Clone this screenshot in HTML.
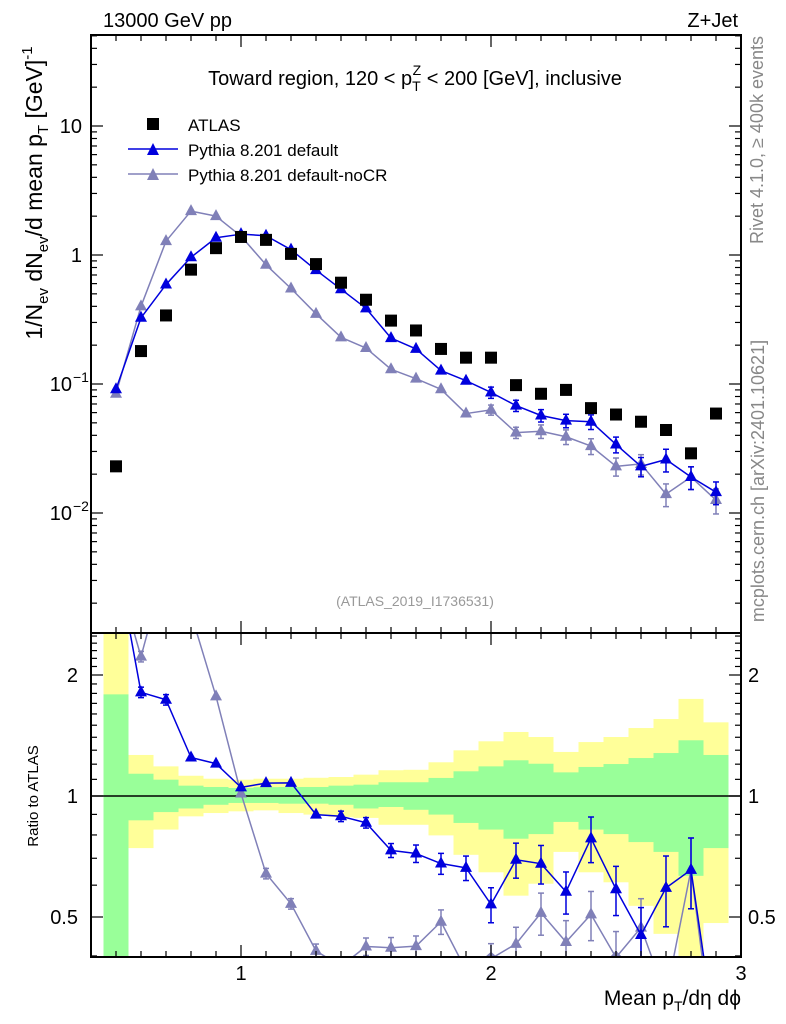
<!DOCTYPE html>
<html><head><meta charset="utf-8"><style>
html,body{margin:0;padding:0;background:#fff;width:786px;height:1024px;overflow:hidden;}
svg{display:block;font-family:"Liberation Sans",sans-serif;}
</style></head><body>
<svg id="c" width="786" height="1024" viewBox="0 0 786 1024" xmlns="http://www.w3.org/2000/svg">
<g id="bands"></g>
<g id="marks"></g>
<g id="axes"></g>
<text x="103" y="27" font-size="20">13000 GeV pp</text>
<text x="738" y="27" font-size="20" text-anchor="end">Z+Jet</text>
<text x="415" y="85" font-size="20" text-anchor="middle">Toward region, 120 &lt; p<tspan font-size="14" dy="6">T</tspan><tspan font-size="14" dx="-8" dy="-16">Z</tspan><tspan dy="10"> &lt; 200 [GeV], inclusive</tspan></text>
<text x="415" y="606" font-size="14" fill="#999" text-anchor="middle">(ATLAS_2019_I1736531)</text>
<text transform="translate(763,140) rotate(-90)" font-size="18" fill="#888" text-anchor="middle">Rivet 4.1.0, ≥ 400k events</text>
<text transform="translate(764,481) rotate(-90)" font-size="18" fill="#888" text-anchor="middle">mcplots.cern.ch [arXiv:2401.10621]</text>
<text transform="translate(42,193) rotate(-90)" font-size="23" text-anchor="middle">1/N<tspan font-size="15" dy="6">ev</tspan><tspan dy="-6"> dN</tspan><tspan font-size="15" dy="6">ev</tspan><tspan dy="-6">/d mean p</tspan><tspan font-size="15" dy="6">T</tspan><tspan dy="-6"> [GeV]</tspan><tspan font-size="15" dy="-10">-1</tspan></text>
<text transform="translate(38,796) rotate(-90)" font-size="15" text-anchor="middle">Ratio to ATLAS</text>
<text x="741" y="1005" font-size="21" text-anchor="end">Mean p<tspan font-size="14" dy="6">T</tspan><tspan dy="-6">/dη dϕ</tspan></text>
<g>
<rect x="147" y="118" width="12" height="12" fill="#000"/>
<text x="188" y="131" font-size="17">ATLAS</text>
<line x1="128" y1="149" x2="178" y2="149" stroke="#0000dd" stroke-width="1.5"/>
<path d="M147,155 L159,155 L153,143 Z" fill="#0000dd"/>
<text x="188" y="156" font-size="17">Pythia 8.201 default</text>
<line x1="128" y1="174" x2="178" y2="174" stroke="#8080b8" stroke-width="1.5"/>
<path d="M147,180 L159,180 L153,168 Z" fill="#8080b8"/>
<text x="188" y="181" font-size="17">Pythia 8.201 default-noCR</text>
</g>
</svg>
<script>
const xCenters=[0.5,0.6,0.7,0.8,0.9,1.0,1.1,1.2,1.3,1.4,1.5,1.6,1.7,1.8,1.9,2.0,2.1,2.2,2.3,2.4,2.5,2.6,2.7,2.8,2.9];
const atlasVals=[0.023,0.18,0.34,0.77,1.13,1.38,1.31,1.02,0.85,0.61,0.45,0.31,0.26,0.187,0.16,0.16,0.098,0.084,0.09,0.065,0.058,0.051,0.044,0.029,0.059];
const defaultVals=[0.091,0.326,0.59,0.96,1.36,1.45,1.41,1.10,0.764,0.543,0.386,0.227,0.187,0.127,0.106,0.086,0.068,0.057,0.052,0.051,0.034,0.023,0.026,0.019,0.0145];
const nocrVals=[0.084,0.40,1.28,2.19,2.0,1.40,0.84,0.55,0.35,0.23,0.19,0.13,0.11,0.091,0.059,0.063,0.042,0.043,0.039,0.033,0.023,0.024,0.014,0.019,0.0126];
const defaultRelErr=[0.04,0.03,0.03,0.025,0.02,0.02,0.02,0.02,0.025,0.03,0.03,0.04,0.05,0.06,0.07,0.1,0.1,0.11,0.12,0.13,0.14,0.17,0.2,0.2,0.2];
const nocrRelErr=[0.04,0.03,0.02,0.02,0.02,0.02,0.03,0.03,0.04,0.04,0.05,0.06,0.06,0.07,0.08,0.09,0.1,0.12,0.13,0.14,0.16,0.18,0.2,0.2,0.22];
const greenUp=[1.79,1.136,1.098,1.061,1.053,1.047,1.052,1.053,1.053,1.061,1.067,1.082,1.082,1.109,1.152,1.185,1.227,1.203,1.145,1.181,1.201,1.243,1.279,1.376,1.265];
const greenLo=[0.3,0.870,0.912,0.931,0.951,0.961,0.961,0.957,0.957,0.951,0.931,0.939,0.924,0.899,0.857,0.825,0.783,0.804,0.862,0.825,0.804,0.768,0.726,0.633,0.742];
const yellowUp=[3,1.265,1.185,1.123,1.104,1.098,1.104,1.104,1.110,1.115,1.130,1.159,1.162,1.213,1.299,1.368,1.443,1.402,1.287,1.362,1.402,1.476,1.554,1.744,1.525];
const yellowLo=[0.3,0.742,0.825,0.890,0.907,0.916,0.921,0.907,0.899,0.887,0.882,0.848,0.848,0.798,0.714,0.646,0.565,0.605,0.726,0.646,0.610,0.533,0.454,0.3,0.483];
const xTickLabels=["1","2","3"];
const yTickLabels=["10","1","10","10"];
const rTickLabels=["2","1","0.5"];

const NS="http://www.w3.org/2000/svg";
const L=91,R=741,T=35,B=633,RT=633,RB=957;
const X=v=>L+(v-0.4)*250;
const Y=v=>255-129*Math.log10(v);
const RY=v=>796-121*Math.log2(v);
const clampR=y=>Math.max(RT,Math.min(RB,y));
function mk(tag,attrs,parent){const e=document.createElementNS(NS,tag);for(const k in attrs)e.setAttribute(k,attrs[k]);parent.appendChild(e);return e;}
const bands=document.getElementById('bands'),marks=document.getElementById('marks'),axes=document.getElementById('axes');

xCenters.forEach((c,i)=>{
  const x0=X(c-0.05),w=25;
  let y1=clampR(RY(yellowUp[i])),y2=clampR(RY(yellowLo[i]));
  let r=mk('rect',{x:x0,y:y1,width:w,height:y2-y1,fill:'#ffff99'},bands);
  
  
  y1=clampR(RY(greenUp[i]));y2=clampR(RY(greenLo[i]));
  r=mk('rect',{x:x0,y:y1,width:w,height:y2-y1,fill:'#99ff99'},bands);
  
  
});
let ln=mk('line',{x1:L,y1:796,x2:R,y2:796,stroke:'#000','stroke-width':1.5},bands);



const gTop=mk('g',{},marks);
const gBot=mk('g',{},marks);

// clip polyline segments to vertical range [y0,y1]
function clippedPath(pts,y0,y1){
  let d='';
  for(let i=0;i<pts.length-1;i++){
    let [ax,ay]=pts[i],[bx,by]=pts[i+1];
    let t0=0,t1=1;const dy=by-ay;
    if(dy===0){if(ay<y0||ay>y1)continue;}
    else{
      let ta=(y0-ay)/dy,tb=(y1-ay)/dy;
      let lo=Math.min(ta,tb),hi=Math.max(ta,tb);
      t0=Math.max(0,lo);t1=Math.min(1,hi);
      if(t0>=t1)continue;
    }
    const px=ax+(bx-ax)*t0,py=ay+dy*t0,qx=ax+(bx-ax)*t1,qy=ay+dy*t1;
    d+=`M${px.toFixed(2)},${py.toFixed(2)}L${qx.toFixed(2)},${qy.toFixed(2)}`;
  }
  return d;
}

function series(vals,errs,color,name){
  const mainPts=xCenters.map((c,i)=>[X(c),Y(vals[i])]);
  let pl=mk('path',{d:clippedPath(mainPts,T,B),fill:'none',stroke:color,'stroke-width':1.5,'stroke-linejoin':'round'},gTop);
  
  
  const ratioPts=xCenters.map((c,i)=>[X(c),RY(vals[i]/atlasVals[i])]);
  pl=mk('path',{d:clippedPath(ratioPts,RT,RB),fill:'none',stroke:color,'stroke-width':1.5},gBot);
  
  
  xCenters.forEach((c,i)=>{
    const x=X(c);
    [[gTop,Y,vals[i],T,B],[gBot,RY,vals[i]/atlasVals[i],RT,RB]].forEach(([g,f,v,lo,hi],k)=>{
      const y=f(v);
      let ya=f(v*(1+errs[i])),yb=f(v*(1-errs[i]));
      if(yb<lo||ya>hi)return;
      if(ya<y-5||yb>y+5){
        const a=Math.max(lo,ya),b=Math.min(hi,yb);
        mk('line',{x1:x,y1:a,x2:x,y2:b,stroke:color,'stroke-width':1.5},g);
        if(ya>=lo)mk('line',{x1:x-3,y1:ya,x2:x+3,y2:ya,stroke:color,'stroke-width':1.5},g);
        if(yb<=hi)mk('line',{x1:x-3,y1:yb,x2:x+3,y2:yb,stroke:color,'stroke-width':1.5},g);
      }
      if(y<lo-2||y>hi+2)return;
      const p=mk('path',{d:`M${x-6},${Math.min(y+4,hi)} L${x+6},${Math.min(y+4,hi)} L${x},${Math.max(y-7,lo)} Z`,fill:color},g);
      
      
    });
  });
}
series(nocrVals,nocrRelErr,'#8080b8','pythia-nocr');
series(defaultVals,defaultRelErr,'#0000dd','pythia-default');
xCenters.forEach((c,i)=>{
  const s=mk('rect',{x:X(c)-6,y:Y(atlasVals[i])-6,width:12,height:12,fill:'#000'},gTop);
  
  
});

[[T,B],[RT,RB]].forEach(([a,b])=>mk('rect',{x:L,y:a,width:R-L,height:b-a,fill:'none',stroke:'#000','stroke-width':2},axes));
for(let k=0;k<=26;k++){
  const v=0.4+k*0.1,x=X(v),maj=Math.abs(v-Math.round(v))<1e-6;
  const len=maj?12:6;
  [[T,1],[B,-1],[RT,1],[RB,-1]].forEach(([y,d])=>mk('line',{x1:x,y1:y,x2:x,y2:y+d*len,stroke:'#000','stroke-width':1.2},axes));
}
xTickLabels.forEach((t,i)=>{
  const e=mk('text',{x:X(i+1),y:980,'font-size':20,'text-anchor':'middle'},axes);e.textContent=t;
  
  
});
for(let d=-3;d<=1;d++){for(let m=1;m<=9;m++){
  const v=m*Math.pow(10,d),y=Y(v);if(y<T||y>B)continue;
  const len=m==1?12:6;
  mk('line',{x1:L,y1:y,x2:L+len,y2:y,stroke:'#000','stroke-width':1.2},axes);
  mk('line',{x1:R,y1:y,x2:R-len,y2:y,stroke:'#000','stroke-width':1.2},axes);
}}
[10,1,0.1,0.01].forEach((v,i)=>{
  const e=mk('text',{x:i>1?72:82,y:Y(v)+7,'font-size':20,'text-anchor':'end'},axes);e.textContent=yTickLabels[i];
  
  
  if(i>1){const s=mk('text',{x:73,y:Y(v)-2,'font-size':14},axes);s.textContent=i==2?'−1':'−2';}
});
for(let v=0.4;v<=2.55;v+=0.1){
  const y=RY(v);if(y<RT||y>RB)continue;
  const maj=[0.5,1,2].some(m=>Math.abs(v-m)<1e-6);const len=maj?12:6;
  mk('line',{x1:L,y1:y,x2:L+len,y2:y,stroke:'#000','stroke-width':1.2},axes);
  mk('line',{x1:R,y1:y,x2:R-len,y2:y,stroke:'#000','stroke-width':1.2},axes);
}
[2,1,0.5].forEach((v,i)=>{
  let e=mk('text',{x:78,y:RY(v)+7,'font-size':20,'text-anchor':'end'},axes);e.textContent=rTickLabels[i];
  
  
  e=mk('text',{x:748,y:RY(v)+7,'font-size':20},axes);e.textContent=rTickLabels[i];
  
  
});
</script>
</body></html>
